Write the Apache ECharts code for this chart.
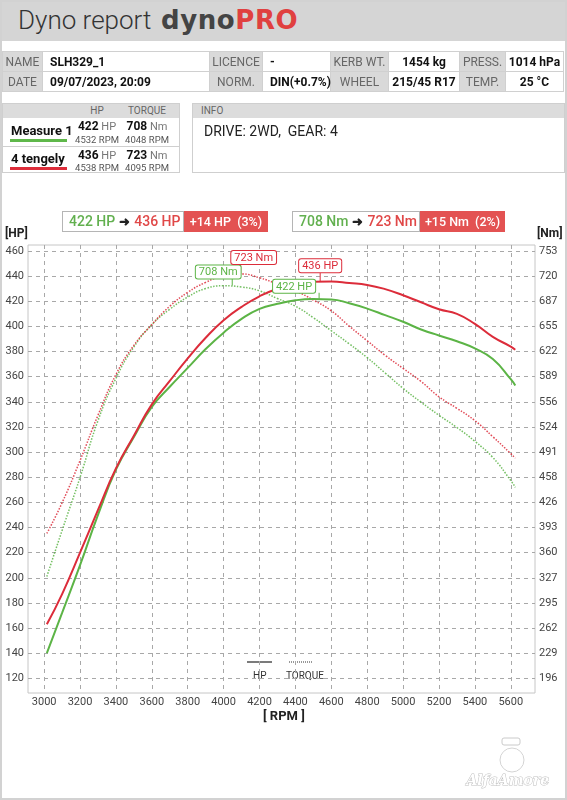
<!DOCTYPE html>
<html>
<head>
<meta charset="utf-8">
<script src="https://cdn.jsdelivr.net/npm/echarts@6/dist/echarts.min.js"></script>
<style>
  body { margin: 0; background: #fff; font-family: Roboto, "Noto Sans", sans-serif; }
  #page { position: relative; width: 567px; height: 800px; overflow: hidden; }
  #chart { position: absolute; left: 0; top: 0; width: 567px; height: 800px; }
  .abs { position: absolute; }
  #frame { position: absolute; left: 0; top: 0; width: 567px; height: 800px; box-sizing: border-box;
           border: 2px solid #d2d2d2; pointer-events: none; }
  #head { left: 0; top: 0; width: 567px; height: 41px; background: #d5d5d5; }
  #head .t1 { position: absolute; left: 18px; top: 5px; font-size: 26px; font-weight: 300; color: #333; }
  #head .t2 { position: absolute; left: 161px; top: 5px; font-family: "DejaVu Sans", sans-serif;
              font-weight: bold; font-size: 26px; color: #444; letter-spacing: 0.6px; }
  #head .t2 span { color: #e0403f; }
  table { border-collapse: collapse; table-layout: fixed; }
  #info td { height: 19px; border: 1px solid #d0d0d0; font-size: 12px; padding: 0; white-space: nowrap; }
  #info td.l { background: #d9d9d9; color: #666; text-align: center; }
  #info td.v { color: #111; font-weight: bold; }
  #info td.vl { padding-left: 7px; }
  #info td.vc { text-align: center; }
  #meas { left: 2px; top: 103px; width: 178px; height: 70px; border: 1px solid #cfcfcf; box-sizing: border-box; }
  #meas .hdr { position: absolute; left: 0; top: 0; width: 100%; height: 14px; background: #dcdcdc; }
  #meas .h { position: absolute; top: 1px; font-size: 10px; color: #666; transform: translateX(-50%); }
  #meas .sep { position: absolute; left: 0; top: 42px; width: 100%; height: 1px; background: #cfcfcf; }
  #meas .name { position: absolute; left: 8px; font-size: 13px; font-weight: bold; color: #111; }
  #meas .bar { position: absolute; left: 7px; width: 57px; height: 3px; }
  #meas .v { position: absolute; font-size: 12px; color: #111; font-weight: bold; transform: translateX(-50%); white-space: nowrap; }
  #meas .v i { font-style: normal; font-weight: normal; color: #777; font-size: 11px; }
  #meas .r { position: absolute; font-size: 9.5px; color: #555; transform: translateX(-50%); white-space: nowrap; }
  #infobox { left: 192px; top: 103px; width: 373px; height: 70px; border: 1px solid #cfcfcf; box-sizing: border-box; }
  #infobox .hdr { height: 14px; background: #dcdcdc; font-size: 10px; color: #666; padding-left: 8px; line-height: 14px; }
  #infobox .txt { position: absolute; left: 11px; top: 19px; font-size: 14px; color: #222; }
  .badge { position: absolute; top: 211px; height: 21px; display: flex; font-size: 14px; font-weight: 500; }
  .badge .w { border: 1px solid #b5b5b5; box-sizing: border-box; height: 21px; line-height: 19px; padding-left: 6px; white-space: nowrap; }
  .badge .rd { background: #e35252; color: #fff; height: 21px; line-height: 21px; font-size: 12.5px; text-align: center; white-space: nowrap; }
  .g { color: #62b04f; } .rr { color: #e04848; } .ar { color: #222; font-size: 13px; font-weight: bold; padding: 0 4px; }
</style>
</head>
<body>
<div id="page">
  <div id="chart"></div>

  <div id="head" class="abs">
    <div class="t1">Dyno report</div>
    <div class="t2">dyno<span>PRO</span></div>
  </div>

  <table id="info" class="abs" style="left:2px; top:51px; width:561px;">
    <colgroup>
      <col style="width:40px"><col style="width:167px"><col style="width:53px"><col style="width:68px">
      <col style="width:58px"><col style="width:71px"><col style="width:46px"><col style="width:58px">
    </colgroup>
    <tr>
      <td class="l">NAME</td><td class="v vl">SLH329_1</td>
      <td class="l">LICENCE</td><td class="v vl">-</td>
      <td class="l">KERB WT.</td><td class="v vc">1454 kg</td>
      <td class="l">PRESS.</td><td class="v vc">1014 hPa</td>
    </tr>
    <tr>
      <td class="l">DATE</td><td class="v vl">09/07/2023, 20:09</td>
      <td class="l">NORM.</td><td class="v vl">DIN(+0.7%)</td>
      <td class="l">WHEEL</td><td class="v vc">215/45 R17</td>
      <td class="l">TEMP.</td><td class="v vc">25 °C</td>
    </tr>
  </table>

  <div id="meas" class="abs">
    <div class="hdr"></div>
    <div class="h" style="left:94px">HP</div>
    <div class="h" style="left:144px">TORQUE</div>
    <div class="name" style="top:19px">Measure 1</div>
    <div class="bar" style="top:35px; background:#5fb84a"></div>
    <div class="v" style="left:94px; top:15px">422<i> HP</i></div>
    <div class="r" style="left:94px; top:30px">4532 RPM</div>
    <div class="v" style="left:144px; top:15px">708<i> Nm</i></div>
    <div class="r" style="left:144px; top:30px">4048 RPM</div>
    <div class="sep"></div>
    <div class="name" style="top:47px">4 tengely</div>
    <div class="bar" style="top:63px; background:#dd2d3a"></div>
    <div class="v" style="left:94px; top:44px">436<i> HP</i></div>
    <div class="r" style="left:94px; top:58px">4538 RPM</div>
    <div class="v" style="left:144px; top:44px">723<i> Nm</i></div>
    <div class="r" style="left:144px; top:58px">4095 RPM</div>
  </div>

  <div id="infobox" class="abs">
    <div class="hdr">INFO</div>
    <div class="txt">DRIVE: 2WD,&nbsp; GEAR: 4</div>
  </div>

  <div class="badge" style="left:62px">
    <div class="w" style="width:122px"><span class="g">422 HP</span><span class="ar">➜</span><span class="rr">436 HP</span></div>
    <div class="rd" style="width:84px">+14 HP&nbsp; (3%)</div>
  </div>
  <div class="badge" style="left:292px">
    <div class="w" style="width:128px"><span class="g">708 Nm</span><span class="ar">➜</span><span class="rr">723 Nm</span></div>
    <div class="rd" style="width:85px">+15 Nm&nbsp; (2%)</div>
  </div>

  <div id="frame"></div>
</div>

<script>
// values
const rpm = [3015, 3100, 3200, 3300, 3400, 3500, 3600, 3700, 3800, 3900, 4000, 4100, 4200, 4300,
             4400, 4500, 4600, 4700, 4800, 4900, 5000, 5100, 5200, 5300, 5400, 5500, 5600, 5625];
const hpMeasure1 = [140, 172, 210, 250, 286, 312, 336, 352, 367, 382, 395, 406, 414, 418,
                    420.8, 421.8, 421.5, 418.4, 414.2, 409, 403.7, 397.6, 392.8, 388.2, 382.5, 374, 358, 353];
const hpTengely = [163, 187, 220, 254, 287, 313, 338, 356.6, 374.6, 391, 405, 415.6, 424, 430,
                   433.5, 435.5, 435.7, 434.5, 433, 429.7, 424.8, 419.2, 413.7, 410, 402, 391.7, 384, 381.5];
const nmMeasure1 = [329, 389, 458, 532, 587, 628, 657, 677, 693, 704, 707.5, 706, 701, 691,
                    681, 666, 649, 632, 614, 594, 574, 556, 539, 523, 505, 484, 454, 445];
const nmTengely = [385, 425, 480, 539, 592, 630, 657, 681, 699, 712, 720.5, 723, 718, 710,
                   701, 689, 675, 655, 636, 617, 600, 583, 563, 548, 532, 511, 489, 483];

const peakHp = [422, 436], peakHpRpm = [4532, 4538];
const peakNm = [708, 723], peakNmRpm = [4048, 4095];

const rpmTicks = [3000, 3200, 3400, 3600, 3800, 4000, 4200, 4400, 4600, 4800, 5000, 5200, 5400, 5600];
const hpTicks = [120, 140, 160, 180, 200, 220, 240, 260, 280, 300, 320, 340, 360, 380, 400, 420, 440, 460];
const nmTickLabels = [196, 229, 262, 295, 327, 360, 393, 426, 458, 491, 524, 556, 589, 622, 655, 687, 720, 753];

const K = 1.6366; // Nm per HP on the right-hand scale
const HP_MIN = 108.3, HP_MAX = 464.8;
const GREEN = '#5cb446', RED = '#dc2c3a';

const myChart = echarts.init(document.getElementById('chart'));

const peakMark = (rpmV, val, text, color, dx, tick) => ({
  symbol: 'rect',
  symbolSize: [1, tick],
  symbolOffset: [0, -tick / 2],
  silent: true,
  itemStyle: { color: color },
  label: {
    show: true, position: 'top', distance: 0, offset: [dx, 0],
    formatter: text, color: color, fontSize: 11, lineHeight: 12,
    backgroundColor: '#fff', borderColor: color, borderWidth: 1, borderRadius: 2,
    padding: [1, 3, 0, 3]
  },
  data: [{ coord: [rpmV, val] }]
});

const lineSeries = (name, vals, color, yIdx, dotted, mark) => ({
  name: name,
  type: 'line',
  yAxisIndex: yIdx,
  smooth: true,
  showSymbol: false,
  data: rpm.map((r, i) => [r, vals[i]]),
  lineStyle: { color: color, width: dotted ? 1.5 : 2, type: dotted ? 'dotted' : 'solid', opacity: dotted ? 0.85 : 1 },
  itemStyle: { color: color },
  markPoint: mark
});

myChart.setOption({
  animation: false,
  textStyle: { fontFamily: 'Roboto' },
  grid: { left: 28, top: 245, width: 507, height: 448, show: true, borderColor: '#c6c6c6', borderWidth: 1 },
  xAxis: {
    type: 'value', min: 2910, max: 5735,
    axisLine: { show: false }, axisTick: { show: false, customValues: rpmTicks },
    axisLabel: { customValues: rpmTicks, color: '#444', fontSize: 11, margin: 4, formatter: (v) => String(v) },
    splitLine: { show: true, lineStyle: { color: '#a8a8a8', type: [4, 4] } }
  },
  yAxis: [
    {
      type: 'value', min: HP_MIN, max: HP_MAX,
      axisLine: { show: false }, axisTick: { show: false, customValues: hpTicks },
      axisLabel: { customValues: hpTicks, color: '#444', fontSize: 11, margin: 4 },
      splitLine: { show: true, lineStyle: { color: '#a8a8a8', type: [4, 4] } }
    },
    {
      type: 'value', position: 'right', min: HP_MIN * K, max: HP_MAX * K,
      axisLine: { show: false }, axisTick: { show: false, customValues: hpTicks.map(v => v * K) },
      axisLabel: {
        customValues: hpTicks.map(v => v * K), color: '#444', fontSize: 11, margin: 4,
        formatter: (v) => nmTickLabels[hpTicks.findIndex(h => Math.abs(h * K - v) < 0.01)]
      },
      splitLine: { show: false }
    }
  ],
  series: [
    lineSeries('Measure 1 torque', nmMeasure1, GREEN, 1, true,
      peakMark(peakNmRpm[0], peakNm[0], peakNm[0] + ' Nm', GREEN, -14, 7)),
    lineSeries('4 tengely torque', nmTengely, RED, 1, true,
      peakMark(peakNmRpm[1], peakNm[1], peakNm[1] + ' Nm', RED, 13, 10)),
    lineSeries('Measure 1', hpMeasure1, GREEN, 0, false,
      peakMark(peakHpRpm[0], peakHp[0], peakHp[0] + ' HP', GREEN, -25, 6)),
    lineSeries('4 tengely', hpTengely, RED, 0, false,
      peakMark(peakHpRpm[1], peakHp[1], peakHp[1] + ' HP', RED, 0, 9))
  ],
  graphic: [
    { type: 'text', left: 5, top: 228, style: { text: '[HP]', font: 'bold 12px Roboto', fill: '#222' } },
    { type: 'text', left: 537, top: 228, style: { text: '[Nm]', font: 'bold 12px Roboto', fill: '#222' } },
    { type: 'text', left: 263, top: 710, style: { text: '[ RPM ]', font: 'bold 13px Roboto', fill: '#222' } },
    { type: 'line', shape: { x1: 247, y1: 662, x2: 272, y2: 662 }, style: { stroke: '#222', lineWidth: 1.2 } },
    { type: 'line', shape: { x1: 289, y1: 662, x2: 313, y2: 662 }, style: { stroke: '#333', lineWidth: 1, lineDash: [1, 1] } },
    { type: 'text', left: 253, top: 671, style: { text: 'HP', font: '10px Roboto', fill: '#333' } },
    { type: 'text', left: 286, top: 671, style: { text: 'TORQUE', font: '10px Roboto', fill: '#333' } },
    { type: 'rect', shape: { x: 502, y: 738, width: 18, height: 7, r: 2 }, style: { fill: 'none', stroke: '#cacaca', lineWidth: 1 } },
    { type: 'circle', shape: { cx: 512, cy: 760, r: 12 }, style: { fill: 'none', stroke: '#d4d4d4', lineWidth: 1 } },
    { type: 'text', left: 466, top: 774, style: { text: 'AlfaAmore', font: 'italic bold 14px "DejaVu Serif"', fill: '#fff', stroke: '#c0c0c0', lineWidth: 1 } }
  ]
});
</script>
</body>
</html>
